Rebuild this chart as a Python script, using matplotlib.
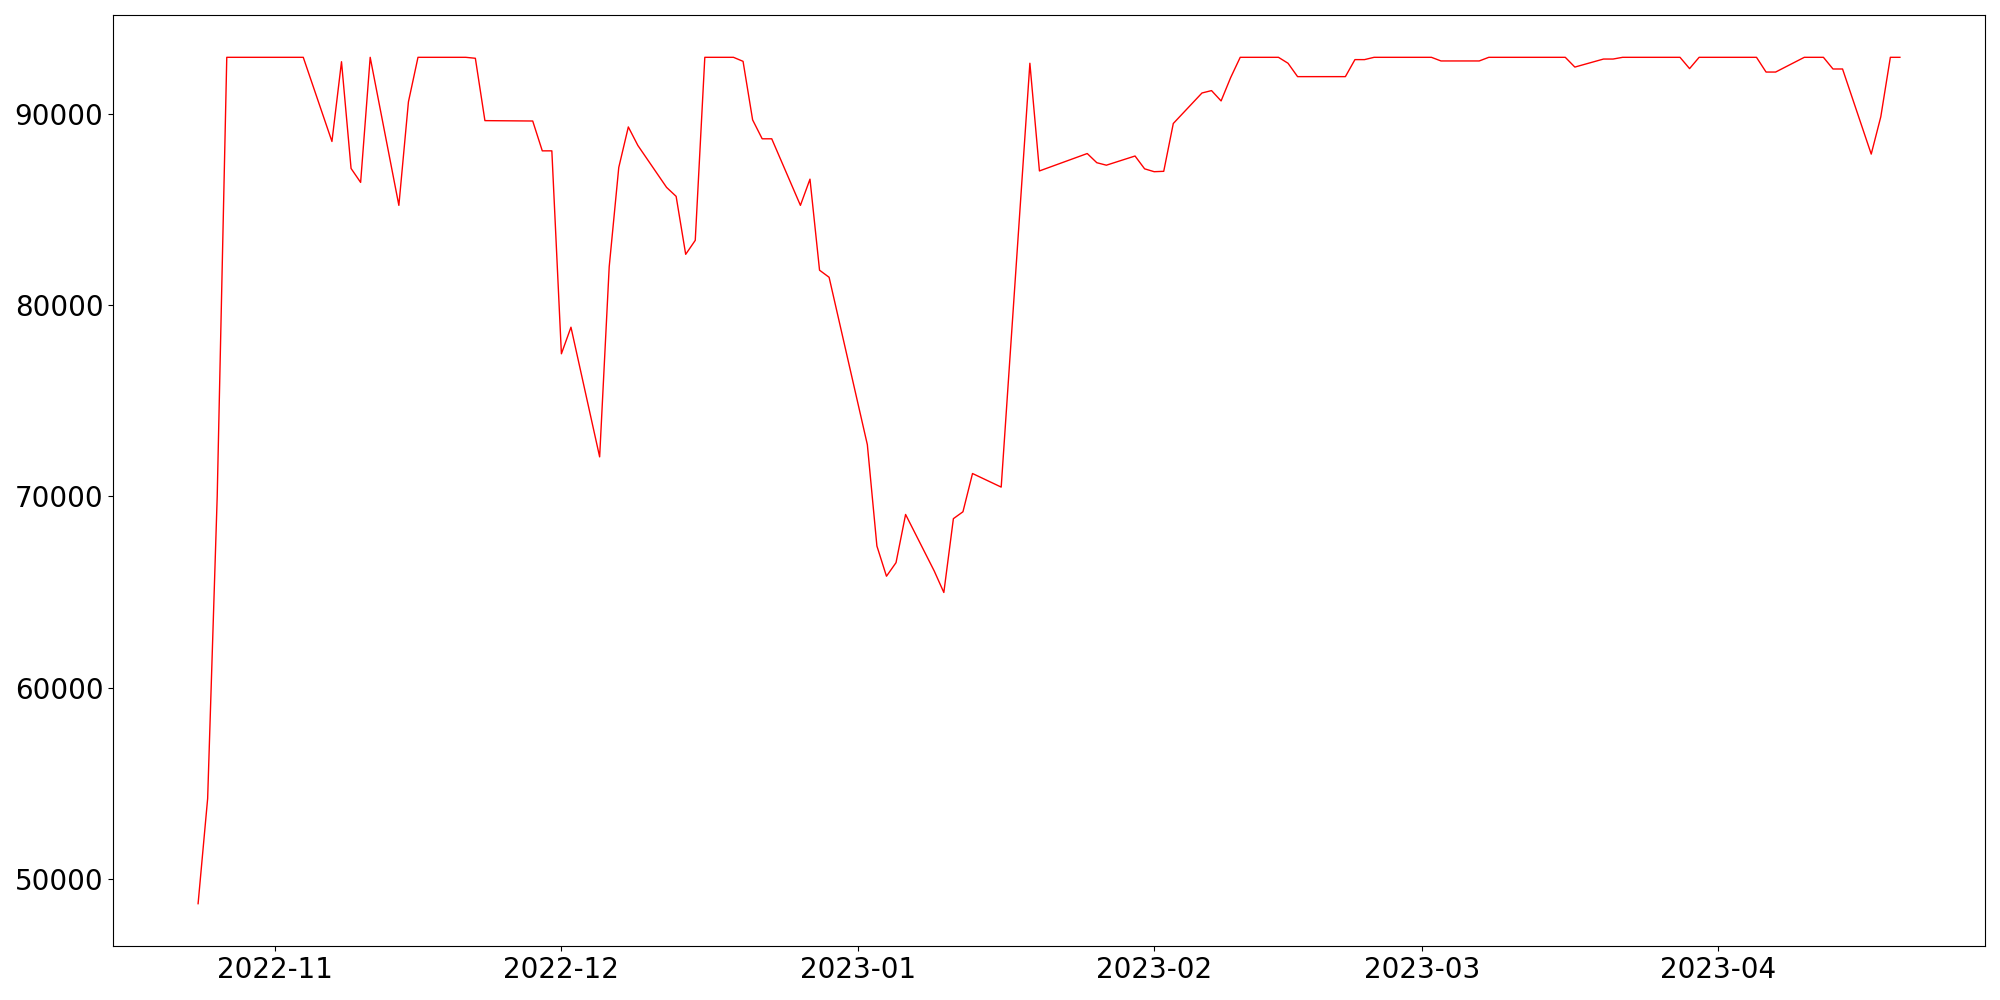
import numpy as np
import pandas as pd
from matplotlib import pyplot as plt

dates = ['2022-10-24', '2022-10-25', '2022-10-26', '2022-10-27', '2022-11-04',
         '2022-11-07', '2022-11-08', '2022-11-09', '2022-11-10', '2022-11-11',
         '2022-11-14', '2022-11-15', '2022-11-16', '2022-11-21', '2022-11-22',
         '2022-11-23', '2022-11-28', '2022-11-29', '2022-11-30', '2022-12-01',
         '2022-12-02', '2022-12-05', '2022-12-06', '2022-12-07', '2022-12-08',
         '2022-12-09', '2022-12-12', '2022-12-13', '2022-12-14', '2022-12-15',
         '2022-12-16', '2022-12-19', '2022-12-20', '2022-12-21', '2022-12-22',
         '2022-12-23', '2022-12-26', '2022-12-27', '2022-12-28', '2022-12-29',
         '2023-01-02', '2023-01-03', '2023-01-04', '2023-01-05', '2023-01-06',
         '2023-01-09', '2023-01-10', '2023-01-11', '2023-01-12', '2023-01-13',
         '2023-01-16', '2023-01-19', '2023-01-20', '2023-01-25', '2023-01-26',
         '2023-01-27', '2023-01-30', '2023-01-31', '2023-02-01', '2023-02-02',
         '2023-02-03', '2023-02-06', '2023-02-07', '2023-02-08', '2023-02-09',
         '2023-02-10', '2023-02-14', '2023-02-15', '2023-02-16', '2023-02-21',
         '2023-02-22', '2023-02-23', '2023-02-24', '2023-03-02', '2023-03-03',
         '2023-03-07', '2023-03-08', '2023-03-16', '2023-03-17', '2023-03-20',
         '2023-03-21', '2023-03-22', '2023-03-28', '2023-03-29', '2023-03-30',
         '2023-04-05', '2023-04-06', '2023-04-07', '2023-04-10', '2023-04-12',
         '2023-04-13', '2023-04-14', '2023-04-17', '2023-04-18', '2023-04-19',
         '2023-04-20']

values = [48700, 54200, 70000, 92950, 92950,
          88550, 92720, 87140, 86410, 92950,
          85210, 90620, 92950, 92950, 92900,
          89640, 89620, 88060, 88060, 77450,
          78840, 72060, 82000, 87190, 89310,
          88340, 86150, 85680, 82650, 83380,
          92950, 92950, 92740, 89680, 88690,
          88690, 85210, 86580, 81820, 81450,
          72700, 67400, 65820, 66530, 69050,
          66090, 64970, 68830, 69190, 71190,
          70480, 92640, 87010, 87920, 87440,
          87310, 87790, 87120, 86970, 86990,
          89490, 91085, 91210, 90670, 91890,
          92950, 92950, 92640, 91940, 91940,
          92830, 92830, 92950, 92950, 92760,
          92760, 92950, 92950, 92440, 92860,
          92860, 92950, 92950, 92360, 92950,
          92950, 92180, 92180, 92950, 92950,
          92340, 92340, 87890, 89840, 92950,
          92950]

x = pd.to_datetime(dates)
y = np.array(values)

fig, ax = plt.subplots(figsize=(20, 10), dpi=100)
ax.plot(x, y, color='red', linewidth=1)
ax.tick_params(labelsize=20)
plt.subplots_adjust(left=0.0565, right=0.9925, top=0.985, bottom=0.054)
plt.savefig('out.png')
